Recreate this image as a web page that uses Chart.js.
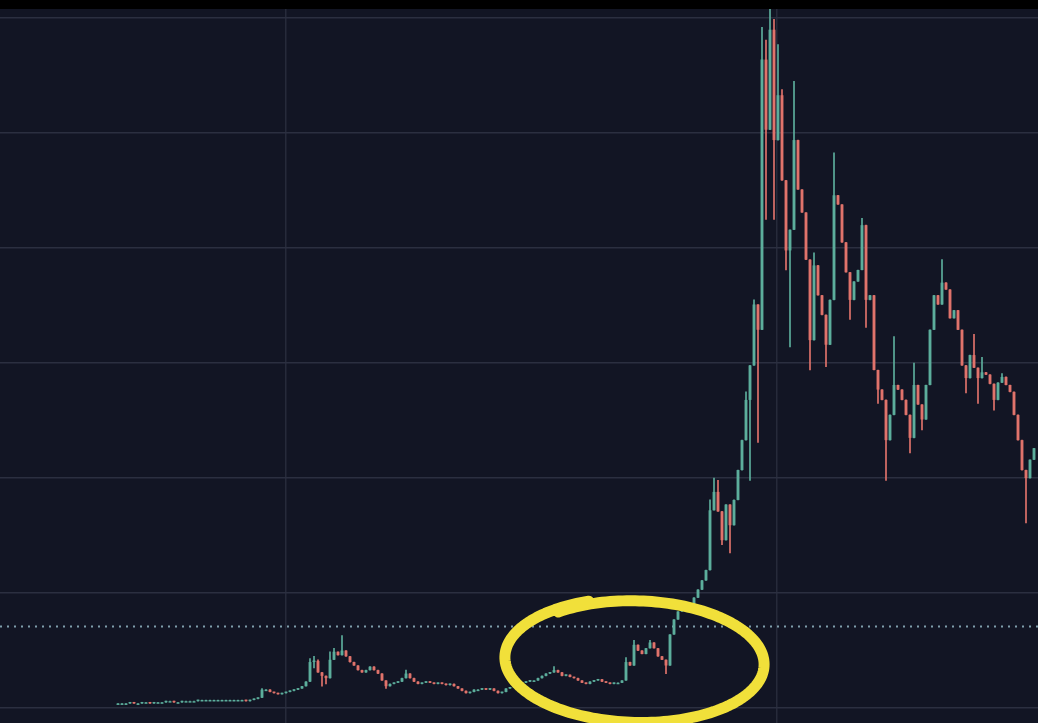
<!DOCTYPE html>
<html><head><meta charset="utf-8">
<script src="https://cdn.jsdelivr.net/npm/chart.js@4/dist/chart.umd.min.js"></script>
<style>
html,body{margin:0;padding:0;background:#000;width:1038px;height:723px;overflow:hidden}
#wrap{position:absolute;left:0;top:9px;width:1038px;height:714px}
</style></head><body><div id="wrap"><canvas id="c"></canvas></div>
<script>
// Close price per candle (arbitrary price units, gridline step = 100)
const closes = [
 4,4,4,5,4,4,5,5,4,5,5,5,6,6,5,5,6,6,6,6,7,7,7,7,7,7,7,7,7,7,7,7,6,7,8,9,
 16,16,14,13,12,13,14,15,16,17,19,23,
 40,41,31,28,26,42,49,46,50,45,40,37,
 33,31,33,36,33,30,24,19,21,22,23,26,
 30,26,23,21,22,23,22,21,22,21,20,21,
 19,17,15,13,14,16,16,17,16,17,15,13,
 14,17,18,19,21,22,23,24,24,26,28,30,
 31,33,31,28,29,27,26,24,22,21,23,24,
 25,23,22,21,22,22,24,40,37,55,50,47,
 52,57,52,45,42,37,64,77,84,88,85,90,
 96,103,111,120,172,188,171,146,177,159,181,207,
 233,268,298,351,329,564,503,590,494,533,459,398,
 416,494,451,431,390,320,385,359,342,316,355,446,
 438,405,379,355,371,381,420,355,359,294,277,268,
 233,255,281,277,268,255,235,281,264,251,281,329,
 359,351,370,364,339,346,329,298,287,307,296,287,
 292,290,282,268,283,288,281,275,255,233,207,200,216,226
];
// Visible wick extremes: [candle index, price]
const wickHighs = [[36,17],[48,43],[49,45],[50,42],[53,49],[54,52],[56,63],[72,33],[109,36],[127,44],[129,59],[133,59],
 [148,181],[149,200],[150,198],[157,275],[159,355],[161,592],[162,581],[163,608],[164,599],[165,577],[166,538],[169,545],
 [174,396],[179,483],[186,426],[194,323],[199,300],[206,390],[214,325],[216,305],[221,291]];
const wickLows = [[49,35],[51,19],[52,21],[67,17],[137,30],[151,142],[153,135],[157,251],[158,198],[160,231],[162,425],[164,425],
 [167,381],[168,314],[173,294],[177,297],[183,338],[187,331],[190,265],[192,198],[198,222],[201,242],[212,274],[215,265],[219,259],[227,161]];
const xGridTicks = [42, 164.75];
const yGridTicks = [0,100,200,300,400,500,600];
const priceLine = 71;

const opens = closes.map((c,i)=> i===0 ? c : closes[i-1]);
const hiMap = Object.fromEntries(wickHighs), loMap = Object.fromEntries(wickLows);
const UP = '#5cae9c', DOWN = '#e0736b';
const colors = closes.map((c,i)=> c>=opens[i] ? UP : DOWN);
const bodies = closes.map((c,i)=>({x:i, y:[opens[i], c]}));
const wicks = closes.map((c,i)=>{
  const hi = Math.max(opens[i], c, hiMap[i] ?? -Infinity);
  const lo = Math.min(opens[i], c, loMap[i] ?? Infinity);
  return {x:i, y:[lo, hi]};
});

const bgPlugin = {id:'bg', beforeDraw(ch){const c=ch.ctx;c.save();c.fillStyle='#121524';c.fillRect(0,0,ch.width,ch.height);c.restore();}};
const priceLinePlugin = {id:'pl', beforeDatasetsDraw(ch){
  const c=ch.ctx, y=ch.scales.y.getPixelForValue(priceLine), a=ch.chartArea;
  c.save(); c.strokeStyle='#7f9eab'; c.lineWidth=2; c.setLineDash([2,5]);
  c.beginPath(); c.moveTo(a.left,y); c.lineTo(a.right,y); c.stroke(); c.restore();
}};
const note = {cx:129.5, cy:41, rx:31.5, ry:52, rot:0.03, color:'#f1e03a', width:11};
const notePlugin = {id:'note', afterDatasetsDraw(ch){
  const c=ch.ctx, xs=ch.scales.x, ys=ch.scales.y;
  const px=xs.getPixelForValue(note.cx), py=ys.getPixelForValue(note.cy);
  const rxp=xs.getPixelForValue(note.cx+note.rx)-px, ryp=py-ys.getPixelForValue(note.cy+note.ry);
  c.save(); c.translate(px,py); c.rotate(note.rot);
  c.strokeStyle=note.color; c.lineWidth=note.width; c.lineCap='round'; c.lineJoin='round';
  c.beginPath();
  const t0=-2.25, span=Math.PI*2+0.3, n=200;
  for(let k=0;k<=n;k++){const t=t0+span*k/n, s=1+0.05*(k/n);
    const X=rxp*s*Math.cos(t), Y=ryp*s*Math.sin(t);
    k?c.lineTo(X,Y):c.moveTo(X,Y);}
  c.stroke(); c.restore();
}};

new Chart(document.getElementById('c'), {
  type:'bar',
  data:{datasets:[
    {data:wicks, backgroundColor:colors, borderWidth:0, barThickness:1, grouped:false, order:2},
    {data:bodies, backgroundColor:colors, borderWidth:0, categoryPercentage:0.8, barPercentage:0.9, minBarLength:1.5, grouped:false, order:1}
  ]},
  options:{
    responsive:true, maintainAspectRatio:false, animation:false,
    layout:{padding:0},
    plugins:{legend:{display:false}, tooltip:{enabled:false}},
    scales:{
      x:{type:'linear', min:-29.5, max:230, offset:false,
         afterBuildTicks:s=>{s.ticks=xGridTicks.map(v=>({value:v}));},
         ticks:{display:false}, border:{display:false},
         grid:{color:'#262a3a', lineWidth:1.5, drawTicks:false, offset:false}},
      y:{type:'linear', min:-13, max:608,
         afterBuildTicks:s=>{s.ticks=yGridTicks.map(v=>({value:v}));},
         ticks:{display:false}, border:{display:false},
         grid:{color:'#2b2f40', lineWidth:1.5, drawTicks:false}}
    }
  },
  plugins:[bgPlugin, priceLinePlugin, notePlugin]
});
</script></body></html>
